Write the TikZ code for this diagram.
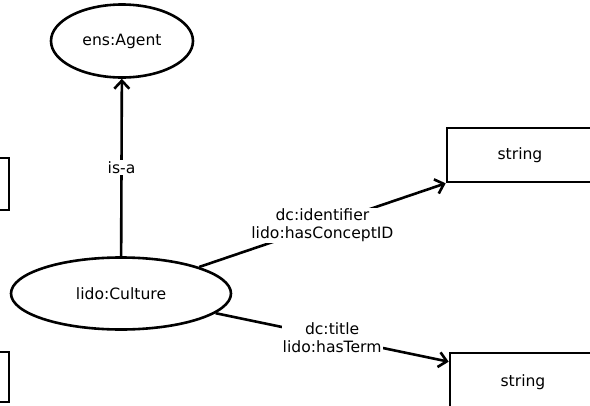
\documentclass[tikz,border=0pt]{standalone}
\usepackage{fontspec}
\setmainfont{DejaVu Sans}
\usetikzlibrary{arrows.meta,shapes.geometric}
\begin{document}
\begin{tikzpicture}[x=1pt,y=-1pt,
  line width=2.6pt,
  font=\fontsize{15.6}{18}\selectfont,
  classnode/.style={draw, ellipse, inner sep=0pt},
  literal/.style={draw, rectangle, minimum width=146pt, minimum height=54pt, inner sep=0pt},
  rel/.style={-{Straight Barb[length=8pt,width=15pt]}},
  rellabel/.style={fill=white, align=center, inner sep=1pt}
]
\useasboundingbox (0,0) rectangle (590,405);
\clip (0,0) rectangle (590,405);

% class nodes
\node[classnode, minimum width=142pt, minimum height=73pt] (agent) at (122,41) {ens:Agent};
\node[classnode, minimum width=220pt, minimum height=72pt] (culture) at (121,293.5) {lido:Culture};

% literal boxes
\node[literal] (str1) at (520,155) {string};
\node[literal, minimum height=58pt] (str2) at (523,382) {string};
\node[literal, minimum height=52pt] (left1) at (-64,184) {};
\node[literal, minimum height=50pt] (left2) at (-64,377) {};

% relations
\draw[rel] (culture) -- node[rellabel] {is-a} (agent);
\draw[rel] (culture) -- node[rellabel] {dc:identifier\\lido:hasConceptID} (str1.south west);
\draw[rel] (culture) -- node[rellabel] {dc:title\\lido:hasTerm} ([yshift=-10pt]str2.north west);
\end{tikzpicture}
\end{document}
